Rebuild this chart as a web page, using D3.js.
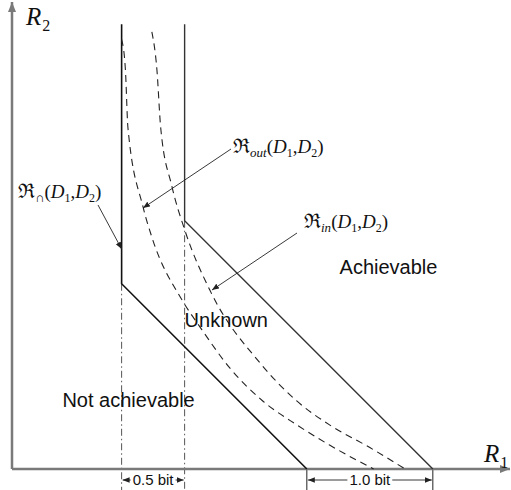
<!DOCTYPE html>
<html>
<head>
<meta charset="utf-8">
<script src="https://cdn.jsdelivr.net/npm/d3@7"></script>
<style>
body{margin:0;background:#fff;}
</style>
</head>
<body>
<div class="region-plot"></div>
<script>
// rates in bits
const leftBound=[[0.87,3.53],[0.87,1.47],[2.34,0]];
const rightBound=[[1.37,3.53],[1.37,1.97],[3.34,0]];

const outCurve=[[0.87,3.41],[0.90,3.17],[0.92,2.71],[1.04,2.08],[1.11,1.84],[1.35,1.34],[1.49,1.13],[1.73,0.80],[1.99,0.54],[2.26,0.35],[2.52,0.19],[2.87,0]];
const inCurve=[[1.11,3.47],[1.15,3.17],[1.18,2.71],[1.27,2.24],[1.37,1.90],[1.57,1.42],[1.97,0.84],[2.26,0.54],[2.52,0.35],[2.84,0.17],[3.12,0]];

const regionNames=['Not achievable','Unknown','Achievable'];
const regionAt=[[0.40,0.49],[1.37,1.13],[2.60,1.55]];

const dims=[
	{from:0.87,to:1.37,label:'0.5 bit'},
	{from:2.34,to:3.34,label:'1.0 bit'}
];

function renderPlot(){
	const width=511;
	const height=490;
	const svg=d3.select('.region-plot')
		.append('svg')
		.attr('width',width)
		.attr('height',height)

	const x=d3.scaleLinear().domain([0,1]).range([12,138]);
	const y=d3.scaleLinear().domain([0,1]).range([469,343]);

	const defs=svg.append('defs');
	function marker(id,color,size){
		defs.append('marker')
			.attr('id',id)
			.attr('viewBox','0 0 10 10')
			.attr('refX',10).attr('refY',5)
			.attr('markerWidth',size).attr('markerHeight',size)
			.attr('markerUnits','userSpaceOnUse')
			.attr('orient','auto')
			.append('path')
			.attr('d','M0,1 L10,5 L0,9 z')
			.attr('fill',color)
	}
	marker('axhead','#7a7a7a',10);
	marker('head','#222',7);

	const line=d3.line().x(d=>x(d[0])).y(d=>y(d[1]));
	const smooth=d3.line().x(d=>x(d[0])).y(d=>y(d[1])).curve(d3.curveMonotoneX);

	// dash-dot guides under the corners
	svg.selectAll('.guide')
		.data([leftBound[1],rightBound[1]])
		.enter()
		.append('line')
		.attr('x1',d=>x(d[0])).attr('x2',d=>x(d[0]))
		.attr('y1',d=>y(d[1])).attr('y2',height)
		.attr('stroke','#555')
		.attr('stroke-width',1)
		.attr('stroke-dasharray','7,3,1.5,3')

	// ticks at the diagonal ends
	svg.selectAll('.tick')
		.data([leftBound[2],rightBound[2]])
		.enter()
		.append('line')
		.attr('x1',d=>x(d[0])).attr('x2',d=>x(d[0]))
		.attr('y1',y(0)).attr('y2',height)
		.attr('stroke','#222')
		.attr('stroke-width',1)

	// axes
	svg.append('line')
		.attr('x1',x(0)).attr('y1',y(0))
		.attr('x2',x(0)).attr('y2',2)
		.attr('stroke','#7a7a7a').attr('stroke-width',2.5)
		.attr('marker-end','url(#axhead)')
	svg.append('line')
		.attr('x1',x(0)).attr('y1',y(0))
		.attr('x2',510).attr('y2',y(0))
		.attr('stroke','#7a7a7a').attr('stroke-width',2.5)
		.attr('marker-end','url(#axhead)')

	// solid bounds
	svg.selectAll('.bound')
		.data([leftBound,rightBound])
		.enter()
		.append('path')
		.attr('d',line)
		.attr('fill','none')
		.attr('stroke',(d,i)=>i==0?'#111':'#333')
		.attr('stroke-width',(d,i)=>i==0?1.6:1.4)

	// dashed curves
	svg.selectAll('.curve')
		.data([outCurve,inCurve])
		.enter()
		.append('path')
		.attr('d',smooth)
		.attr('fill','none')
		.attr('stroke','#222')
		.attr('stroke-width',1.1)
		.attr('stroke-dasharray','7,5')

	// region names
	svg.selectAll('.region')
		.data(regionNames)
		.enter()
		.append('text')
		.attr('x',(d,i)=>x(regionAt[i][0]))
		.attr('y',(d,i)=>y(regionAt[i][1]))
		.attr('font-family','Liberation Sans, Arial, sans-serif')
		.attr('font-size',20)
		.attr('fill','#111')
		.text(d=>d)

	// axis names
	function axisName(px,py,sub){
		const t=svg.append('text')
			.attr('x',px).attr('y',py)
			.attr('font-family','Liberation Serif, Times New Roman, serif')
			.attr('font-size',25)
			.attr('fill','#111')
		t.append('tspan').attr('font-style','italic').text('R')
		t.append('tspan').attr('font-size',16).attr('dx',1).attr('dy',6).text(sub)
	}
	axisName(26,25,'2');
	axisName(484,462,'1');

	// math labels with arrows
	function mathLabel(px,py,sub){
		const t=svg.append('text')
			.attr('x',px).attr('y',py)
			.attr('font-family','Liberation Serif, DejaVu Serif, serif')
			.attr('font-size',19)
			.attr('fill','#111')
		t.append('tspan').attr('font-size',20).text('\u211C')
		t.append('tspan').attr('font-size',13).attr('font-style','italic').attr('dy',4).text(sub)
		t.append('tspan').attr('dy',-4).text('(')
		t.append('tspan').attr('font-style','italic').text('D')
		t.append('tspan').attr('font-size',12).attr('dy',4).text('1')
		t.append('tspan').attr('dy',-4).text(',')
		t.append('tspan').attr('font-style','italic').text('D')
		t.append('tspan').attr('font-size',12).attr('dy',4).text('2')
		t.append('tspan').attr('dy',-4).text(')')
	}
	mathLabel(18,198,'\u2229');
	mathLabel(233,153,'out');
	mathLabel(304,228,'in');

	const pointers=[
		[[98,205],[x(leftBound[0][0]),249]],
		[[231,149],[143,208]],
		[[297,233],[212,290]]
	];
	svg.selectAll('.pointer')
		.data(pointers)
		.enter()
		.append('line')
		.attr('x1',d=>d[0][0]).attr('y1',d=>d[0][1])
		.attr('x2',d=>d[1][0]).attr('y2',d=>d[1][1])
		.attr('stroke','#222')
		.attr('stroke-width',0.9)
		.attr('marker-end','url(#head)')

	// dimension markers under the axis
	const dy=480;
	dims.forEach(dm=>{
		const a=x(dm.from), b=x(dm.to), mid=(a+b)/2;
		const txt=svg.append('text')
			.attr('x',mid).attr('y',dy+5)
			.attr('text-anchor','middle')
			.attr('font-family','Liberation Sans, Arial, sans-serif')
			.attr('font-size',15)
			.attr('fill','#111')
			.text(dm.label)
		const w=txt.node().getComputedTextLength();
		svg.append('line')
			.attr('x1',mid-w/2-2).attr('y1',dy)
			.attr('x2',a+1).attr('y2',dy)
			.attr('stroke','#222').attr('stroke-width',0.9)
			.attr('marker-end','url(#head)')
		svg.append('line')
			.attr('x1',mid+w/2+2).attr('y1',dy)
			.attr('x2',b-1).attr('y2',dy)
			.attr('stroke','#222').attr('stroke-width',0.9)
			.attr('marker-end','url(#head)')
	})
}

renderPlot();
</script>
</body>
</html>
